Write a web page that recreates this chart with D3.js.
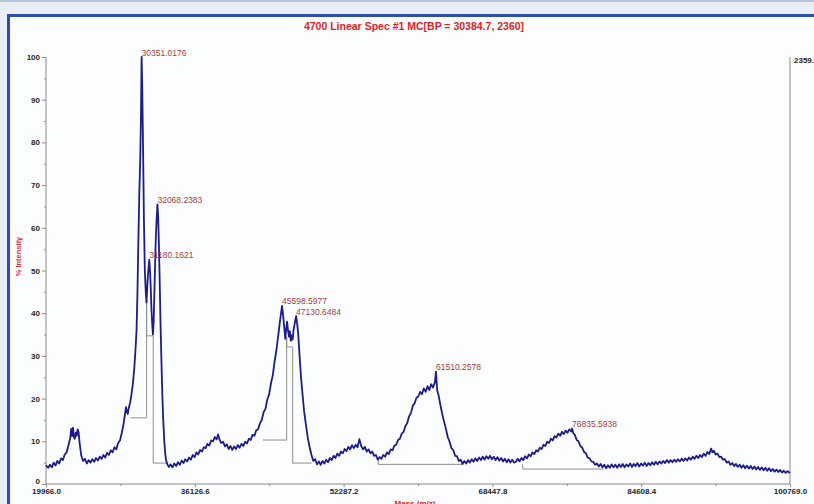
<!DOCTYPE html>
<html>
<head>
<meta charset="utf-8">
<script src="https://cdn.jsdelivr.net/npm/d3@7"></script>
<style>
  html, body { margin: 0; padding: 0; background: #ffffff; }
  svg { display: block; }
  text { font-family: "Liberation Sans", Arial, sans-serif; }
</style>
</head>
<body>
<div id="chart"></div>
<script>
// spectrum: [mass (m/z), % intensity]
var spectrum = [
  [19966,4.4],[20200,3.8],[20400,4.5],[20600,3.9],[20800,5.0],[21000,4.3],[21200,5.4],[21400,4.8],
  [21600,6.0],[21800,5.6],[22000,6.9],[22200,7.4],[22400,9.0],[22600,10.8],[22700,12.9],[22800,11.2],
  [22900,13.2],[23000,11.0],[23100,10.6],[23200,12.0],[23300,11.3],[23400,12.8],[23500,12.2],[23600,10.0],
  [23700,8.2],[23800,6.6],[24000,5.4],[24200,5.9],[24400,4.8],[24600,5.6],[24800,5.0],[25000,5.8],
  [25200,5.2],[25400,6.1],[25600,5.5],[25800,6.4],[26000,5.9],[26200,6.8],[26400,6.2],[26600,7.3],
  [26800,6.8],[27000,7.9],[27200,7.4],[27400,8.6],[27600,8.1],[27800,9.6],[28000,10.2],[28200,12.0],
  [28400,14.2],[28550,16.5],[28650,18.0],[28750,17.0],[28850,16.4],[28950,17.8],[29100,19.0],[29250,21.0],
  [29400,23.5],[29550,27.0],[29700,32.0],[29800,36.0],[29900,45.0],[30000,57.0],[30100,68.0],[30200,76.0],
  [30280,86.0],[30350,100.0],[30420,93.0],[30500,80.0],[30600,62.0],[30700,50.0],[30800,45.0],[30880,42.5],
  [30960,46.0],[31040,49.0],[31120,51.0],[31180,52.5],[31260,50.0],[31340,46.0],[31420,41.0],[31500,37.5],
  [31580,35.0],[31660,38.0],[31740,45.0],[31820,52.0],[31900,58.0],[31980,62.0],[32068,65.5],[32150,62.5],
  [32230,56.0],[32310,48.0],[32400,38.0],[32500,29.0],[32600,21.0],[32700,15.0],[32800,10.5],[32900,7.5],
  [33000,5.6],[33150,4.6],[33300,4.0],[33500,4.6],[33700,3.9],[33900,4.8],[34100,4.2],[34300,5.1],
  [34500,4.5],[34700,5.5],[34900,4.9],[35100,5.8],[35300,5.3],[35500,6.2],[35700,5.7],[35900,6.8],
  [36100,6.3],[36300,7.4],[36500,6.9],[36700,8.0],[36900,7.6],[37100,8.6],[37300,8.4],[37500,9.4],
  [37700,9.0],[37900,10.2],[38100,10.0],[38300,11.0],[38500,10.4],[38650,11.6],[38800,10.5],[39000,9.6],
  [39200,9.9],[39400,8.8],[39600,9.3],[39800,8.2],[40000,8.9],[40200,8.0],[40400,8.8],[40600,8.2],
  [40800,9.1],[41000,8.5],[41200,9.4],[41400,8.9],[41600,9.9],[41800,9.5],[42000,10.6],[42200,10.3],
  [42400,11.5],[42600,11.3],[42800,12.6],[43000,12.8],[43200,14.2],[43400,15.0],[43600,16.8],[43800,17.6],
  [44000,19.8],[44200,21.0],[44400,23.6],[44600,25.5],[44800,28.8],[45000,31.5],[45200,35.0],[45400,38.5],
  [45600,41.7],[45720,39.5],[45850,36.5],[45950,34.0],[46050,36.2],[46150,38.0],[46250,36.0],[46350,34.5],
  [46450,35.8],[46550,33.5],[46650,34.8],[46750,33.8],[46850,36.0],[46950,37.2],[47050,38.4],[47130,39.3],
  [47250,37.5],[47350,35.3],[47450,32.0],[47550,28.5],[47700,24.0],[47850,20.5],[48000,17.0],[48200,13.8],
  [48400,10.8],[48600,8.6],[48800,6.8],[49000,5.4],[49200,5.8],[49400,4.6],[49600,5.3],[49800,4.5],
  [50000,5.4],[50200,4.8],[50400,5.7],[50600,5.1],[50800,6.1],[51000,5.6],[51200,6.6],[51400,6.1],
  [51600,7.1],[51800,6.6],[52000,7.6],[52200,7.2],[52400,8.2],[52600,7.7],[52800,8.7],[53000,8.1],
  [53200,9.1],[53400,8.4],[53600,9.2],[53800,8.6],[54000,10.5],[54200,8.9],[54400,8.1],[54600,8.7],
  [54800,7.6],[55000,8.1],[55200,7.2],[55400,7.6],[55600,6.6],[55800,6.8],[56000,5.7],[56200,6.3],
  [56400,5.9],[56600,6.8],[56800,6.4],[57000,7.4],[57200,7.0],[57400,8.1],[57600,7.9],[57800,9.0],
  [58000,9.2],[58200,10.3],[58400,10.6],[58600,11.8],[58800,12.2],[59000,13.6],[59200,14.3],[59400,15.9],
  [59600,16.6],[59800,18.3],[60000,18.9],[60200,20.2],[60400,20.5],[60600,21.6],[60800,21.0],[61000,22.4],
  [61200,21.6],[61400,22.9],[61600,22.0],[61800,23.4],[62000,22.6],[62200,23.8],[62320,26.3],[62450,22.0],
  [62600,20.8],[62800,18.5],[63000,16.4],[63200,14.6],[63400,12.9],[63600,11.0],[63800,9.9],[64000,8.4],
  [64200,7.9],[64400,6.6],[64600,6.5],[64800,5.4],[65000,5.7],[65200,4.7],[65400,5.4],[65600,4.8],
  [65800,5.6],[66000,5.0],[66200,5.8],[66400,5.2],[66600,6.0],[66800,5.4],[67000,6.2],[67200,5.6],
  [67400,6.4],[67600,5.7],[67800,6.5],[68000,5.9],[68200,6.6],[68400,5.8],[68600,6.4],[68800,5.6],
  [69000,6.3],[69200,5.5],[69400,6.1],[69600,5.3],[69800,5.9],[70000,5.1],[70200,5.8],[70400,5.0],
  [70600,5.7],[70800,5.0],[71000,5.2],[71200,5.9],[71400,5.3],[71600,6.1],[71800,5.6],[72000,6.5],
  [72200,6.0],[72400,6.9],[72600,6.5],[72800,7.4],[73000,7.0],[73200,7.9],[73400,7.6],[73600,8.5],
  [73800,8.2],[74000,9.2],[74200,8.9],[74400,9.9],[74600,9.6],[74800,10.6],[75000,10.2],[75200,11.2],
  [75400,10.9],[75600,11.8],[75800,11.3],[76000,12.2],[76200,11.7],[76400,12.5],[76600,12.0],[76800,12.8],
  [77000,12.3],[77100,13.0],[77250,11.8],[77400,11.5],[77600,10.3],[77800,10.0],[78000,8.9],[78200,8.5],
  [78400,7.5],[78600,7.2],[78800,6.2],[79000,6.0],[79200,5.3],[79400,5.2],[79600,4.5],[79800,4.8],
  [80000,4.1],[80200,4.7],[80400,3.9],[80600,4.5],[80800,3.7],[81000,4.4],[81200,3.8],[81400,4.6],
  [81600,3.9],[81800,4.5],[82000,3.8],[82200,4.6],[82400,4.0],[82600,4.7],[82800,3.9],[83000,4.6],
  [83200,4.1],[83400,4.8],[83600,4.0],[83800,4.7],[84000,4.2],[84200,4.9],[84400,4.1],[84600,4.8],
  [84800,4.3],[85000,5.0],[85200,4.2],[85400,4.9],[85600,4.4],[85800,5.1],[86000,4.5],[86200,5.2],
  [86400,4.6],[86600,5.3],[86800,4.8],[87000,5.4],[87200,4.9],[87400,5.6],[87600,5.0],[87800,5.6],
  [88000,5.1],[88200,5.7],[88400,5.2],[88600,5.8],[88800,5.3],[89000,5.9],[89200,5.4],[89400,6.0],
  [89600,5.5],[89800,6.2],[90000,5.7],[90200,6.4],[90400,5.9],[90600,6.6],[90800,6.1],[91000,6.8],
  [91200,6.3],[91400,7.1],[91600,6.6],[91800,7.5],[92000,7.0],[92200,8.3],[92350,7.4],[92500,7.8],
  [92700,6.9],[92900,7.1],[93100,6.3],[93300,6.4],[93500,5.7],[93700,5.8],[93900,5.0],[94100,5.3],
  [94300,4.5],[94500,4.9],[94700,4.2],[94900,4.7],[95100,4.0],[95300,4.5],[95500,3.8],[95700,4.4],
  [95900,3.7],[96100,4.3],[96300,3.6],[96500,4.2],[96700,3.5],[96900,4.1],[97100,3.4],[97300,4.0],
  [97500,3.3],[97700,3.9],[97900,3.2],[98100,3.8],[98300,3.1],[98500,3.7],[98700,3.0],[98900,3.5],
  [99100,2.9],[99300,3.4],[99500,2.8],[99700,3.3],[99900,2.7],[100100,3.1],[100300,2.6],[100500,3.0],
  [100769,2.6]
];

// peak labels: text, and the [mass, intensity] of the apex it sits on
var peakText = ["30351.0176", "31180.1621", "32068.2383", "45598.5977", "47130.6484", "61510.2578", "76835.5938"];
var peakAt = [[30350,100.0],[31180,52.5],[32068,65.5],[45600,41.7],[47130,39.3],[62320,26.3],[77100,13.0]];

// grey integration baselines under the peaks
var baseLines = [
  [[29155,15.5],[30893,15.5],[30893,43.0],[30893,34.7],[31610,34.7],[31610,4.9],[33065,4.9]],
  [[43532,10.3],[46106,10.3],[46106,34.5],[46106,32.1],[46757,32.1],[46757,4.9],[48820,4.9]],
  [[56054,6.0],[56054,4.6],[65286,4.6]],
  [[71736,4.6],[71736,3.5],[80488,3.5]]
];

var xTicks = [19966.0, 36126.6, 52287.2, 68447.8, 84608.4, 100769.0];
var xMinor = [28046.3, 44206.9, 60367.5, 76528.1, 92688.7];
var yTicks = [0, 10, 20, 30, 40, 50, 60, 70, 80, 90, 100];
var yMinor = [5, 15, 25, 35, 45, 55, 65, 75, 85, 95];

var titleText = "4700 Linear Spec #1 MC[BP = 30384.7, 2360]";
var rightLabel = "2359.5";

var W = 814, H = 504;
var margin = {top: 57, right: 24, bottom: 20, left: 46},
    width = W - margin.left - margin.right,
    height = H - margin.top - margin.bottom;

var svg = d3.select("#chart").append("svg")
    .attr("width", W)
    .attr("height", H);

// window frame
svg.append("rect").attr("x", 0).attr("y", 0).attr("width", W).attr("height", H).attr("fill", "#e9eef6");
svg.append("rect").attr("x", 0).attr("y", 0).attr("width", W).attr("height", 2).attr("fill", "#b9c7da");
svg.append("rect").attr("x", 10).attr("y", 17).attr("width", W - 10).attr("height", H - 17).attr("fill", "#fcfdfe");
svg.append("rect").attr("x", 7).attr("y", 14).attr("width", W - 7).attr("height", 3).attr("fill", "#2c4fae");
svg.append("rect").attr("x", 7).attr("y", 14).attr("width", 3).attr("height", H - 14).attr("fill", "#2c4fae");

var g = svg.append("g")
    .attr("transform", "translate(" + margin.left + "," + margin.top + ")");

var x = d3.scaleLinear().domain([19966.0, 100769.0]).range([0, width]);
var y = d3.scaleLinear().domain([0, 100]).range([height, 0]);

// axes
g.append("g")
    .attr("class", "yaxis")
    .call(d3.axisLeft(y).tickValues(yTicks).tickSize(4).tickPadding(2).tickFormat(d3.format("d")));
g.append("g")
    .call(d3.axisLeft(y).tickValues(yMinor).tickSize(2).tickFormat(""));

g.append("g")
    .attr("transform", "translate(0," + height + ")")
    .call(d3.axisBottom(x).tickValues(xTicks).tickSize(3).tickPadding(1).tickFormat(d3.format(".1f")));
g.append("g")
    .attr("transform", "translate(0," + height + ")")
    .call(d3.axisBottom(x).tickValues(xMinor).tickSize(2).tickFormat(""));

g.selectAll(".domain").attr("d", null);
g.selectAll(".tick line").attr("stroke", "#8c8c8c");
g.selectAll(".tick text")
    .attr("fill", "#262626")
    .style("font-size", "8px")
    .style("font-weight", "bold");

// lift the "0" a little so it clears the first mass label
g.select(".yaxis").selectAll(".tick text")
    .filter(function(d) { return d === 0; })
    .attr("dy", "-0.05em");

// plain axis lines
g.append("line").attr("x1", 0).attr("x2", 0).attr("y1", 0).attr("y2", height).attr("stroke", "#8c8c8c");
g.append("line").attr("x1", 0).attr("x2", width).attr("y1", height).attr("y2", height).attr("stroke", "#8c8c8c");
g.append("line").attr("x1", width).attr("x2", width).attr("y1", 0).attr("y2", height).attr("stroke", "#8c8c8c");

g.append("text")
    .attr("x", width + 4)
    .attr("y", 6)
    .attr("fill", "#262626")
    .style("font-size", "8px")
    .style("font-weight", "bold")
    .text(rightLabel);

// baselines
var line = d3.line()
    .x(function(d) { return x(d[0]); })
    .y(function(d) { return y(d[1]); });

g.selectAll(".base")
    .data(baseLines)
  .enter().append("path")
    .attr("class", "base")
    .attr("d", line)
    .attr("fill", "none")
    .attr("stroke", "#8e8e8e")
    .attr("stroke-width", 1);

// spectrum trace
g.append("path")
    .datum(spectrum)
    .attr("d", line)
    .attr("fill", "none")
    .attr("stroke", "#1c1c8c")
    .attr("stroke-width", 1.8)
    .attr("stroke-linejoin", "round");

// peak labels
g.selectAll(".peak")
    .data(peakText)
  .enter().append("text")
    .attr("class", "peak")
    .attr("x", function(d, i) { return x(peakAt[i][0]); })
    .attr("y", function(d, i) { return y(peakAt[i][1]) - 1.5; })
    .attr("fill", "#a93d3a")
    .style("font-size", "8.5px")
    .text(function(d) { return d; });

// title + axis titles
svg.append("text")
    .attr("x", 414)
    .attr("y", 30)
    .attr("text-anchor", "middle")
    .attr("fill", "#dc1f26")
    .style("font-size", "10.5px")
    .style("font-weight", "bold")
    .text(titleText);

svg.append("text")
    .attr("transform", "translate(21," + (margin.top + height / 2 - 14) + ") rotate(-90)")
    .attr("text-anchor", "middle")
    .attr("fill", "#e0303a")
    .style("font-size", "7.5px")
    .style("font-weight", "bold")
    .text("% Intensity");

svg.append("text")
    .attr("x", 415)
    .attr("y", 506)
    .attr("text-anchor", "middle")
    .attr("fill", "#dc1f26")
    .style("font-size", "8px")
    .style("font-weight", "bold")
    .text("Mass (m/z)");
</script>
</body>
</html>
